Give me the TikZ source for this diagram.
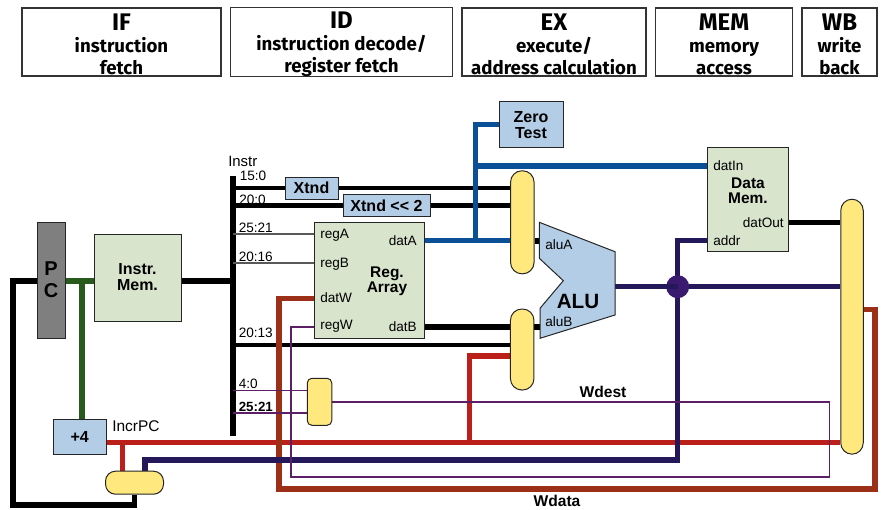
\documentclass[tikz,border=0pt]{standalone}
\usepackage{fontspec}
\setmainfont{Liberation Sans}
\newfontfamily\headfont{Fira Sans}
\definecolor{cblue}{HTML}{B3CDE6}
\definecolor{cgreen}{HTML}{D8E4CC}
\definecolor{cyell}{HTML}{FFE97F}
\definecolor{cgray}{HTML}{7F7F7F}
\definecolor{wgreen}{HTML}{285A1E}
\definecolor{wblue}{HTML}{0B4F96}
\definecolor{wnavy}{HTML}{24175A}
\definecolor{wdot}{HTML}{3A1A6E}
\definecolor{wred}{HTML}{BB1F1A}
\definecolor{wwine}{HTML}{9C2F18}
\definecolor{wpurp}{HTML}{5C1E66}
\pgfdeclarelayer{top}\pgfsetlayers{main,top}
\newcommand{\headtitle}[1]{{\fontsize{18}{18}\selectfont\rule{0pt}{15.5pt}#1}}
\tikzset{
 wh/.style 2 args={minimum width=#1*0.75pt,minimum height=#2*0.75pt},
 headbox/.style={draw=black!80,line width=0.9pt,inner sep=0pt,align=center,font=\headfont\bfseries\fontsize{14}{16.6}\selectfont},
 unit/.style={draw=black!85,line width=0.75pt,inner sep=0pt,align=center,font=\bfseries\fontsize{12}{12}\selectfont},
 bluebox/.style={unit,fill=cblue},
 greenbox/.style={unit,fill=cgreen},
 muxbox/.style={draw=black!85,line width=0.75pt,fill=cyell,inner sep=0pt},
 lab/.style={inner sep=0pt,font=\fontsize{10.2}{11}\selectfont},
 wlab/.style={inner sep=0pt,font=\bfseries\fontsize{11.7}{12}\selectfont},
 thick1/.style={line width=4.4pt,black},
 thick2/.style={line width=3.4pt,black},
 thinw/.style={line width=0.9pt,black!65},
 pwire/.style={line width=1.2pt,wpurp},
 gwire/.style={line width=3.8pt,wgreen},
 bwire/.style={line width=3.8pt,wblue},
 nwire/.style={line width=3.8pt,wnavy},
 rwire/.style={line width=3.8pt,wred},
 wwire/.style={line width=4.2pt,wwine},
}
\begin{document}
\begin{tikzpicture}[x=0.75pt,y=-0.75pt,line join=miter]
\useasboundingbox (0,0) rectangle (882,510);
% header
\node[headbox,wh={199}{68}] (hif) at (121.5,42) {\headtitle{IF}\\instruction\\fetch};
\node[headbox,wh={222}{68}] (hid) at (341.5,42) {\headtitle{ID}\\instruction decode/\\register fetch};
\node[headbox,wh={184}{68}] (hex) at (554,42) {\headtitle{EX}\\execute/\\address calculation};
\node[headbox,wh={137}{68}] (hmem) at (724,42) {\headtitle{MEM}\\memory\\access};
\node[headbox,wh={75}{68}] (hwb) at (839.5,42) {\headtitle{WB}\\write\\back};
\begin{pgfonlayer}{top}
\node[unit,fill=cgray,wh={28}{116},font=\bfseries\fontsize{15}{16.5}\selectfont] (pc) at (51,280) {P\\C};
\node[greenbox,wh={87}{87}] (imem) at (137.5,277.5) {Instr.\\Mem.};
\node[bluebox,wh={53}{35}] (plus) at (79.7,436.5) {+4};
\node[muxbox,rounded corners=7.5pt,wh={58}{23}] (muxpc) at (134.5,482.7) {};
\node[bluebox,wh={53}{22}] (xtnd) at (311.5,188) {Xtnd};
\node[bluebox,wh={87}{22.5}] (xtnd2) at (386.5,205.5) {Xtnd {<}{<} 2};
\node[greenbox,wh={110}{116}] (regs) at (369,280.3) {};
\node[muxbox,rounded corners=8.5pt,wh={23.5}{103}] (muxa) at (522.3,222.3) {};
\node[muxbox,rounded corners=8.5pt,wh={23.5}{81}] (muxb) at (522.2,349.5) {};
\node[muxbox,rounded corners=3.5pt,wh={24.5}{47}] (muxw) at (319.5,401.8) {};
\node[bluebox,wh={64}{46}] (zero) at (531,124.7) {Zero\\Test};
\node[greenbox,wh={81.5}{104.5}] (dmem) at (748,199.5) {};
\node[muxbox,rounded corners=8.5pt,wh={22.5}{255}] (muxwb) at (852,326.7) {};
\draw[draw=black!85,line width=0.75pt,fill=cblue] (539.3,222.3) coordinate (alutl) -- (615,251.7) -- (615,315) -- (540,338.3) -- (540,308.3) -- (563.3,280.7) -- (539.3,258.3) -- cycle;
\node[inner sep=0pt,font=\bfseries\fontsize{15.5}{17}\selectfont] (alulab) at (578,301) {ALU};
\node[inner sep=0pt,align=center,font=\bfseries\fontsize{11.6}{11.4}\selectfont] (regslab) at (387,281) {Reg.\\Array};
\node[inner sep=0pt,align=center,font=\bfseries\fontsize{11.6}{11}\selectfont] (dmemlab) at (748,191) {Data\\Mem.};
\node[lab,anchor=west] (lrega) at (320,235) {regA};
\node[lab,anchor=west] (lregb) at (320,264) {regB};
\node[lab,anchor=west] (ldatw) at (320,297.5) {datW};
\node[lab,anchor=west] (lregw) at (320,326) {regW};
\node[lab,anchor=east] (ldata) at (417,240.5) {datA};
\node[lab,anchor=east] (ldatb) at (417,326.5) {datB};
\node[lab,anchor=west] (lalua) at (545,245) {aluA};
\node[lab,anchor=west] (laluB) at (545,321.5) {aluB};
\node[lab,anchor=west] (ldatin) at (713,166) {datIn};
\node[lab,anchor=east] (ldatout) at (784,222.5) {datOut};
\node[lab,anchor=west] (laddr) at (713,241) {addr};
\end{pgfonlayer}
% bus coordinates
\coordinate (bustop) at (233,176);
\coordinate (busbot) at (233,436);
\coordinate (imrow) at (0,281);
\coordinate (greentap) at (82,281);
\coordinate (pccorner) at (12.7,281);
\coordinate (pcbottom) at (12.7,505);
\coordinate (alucA) at (540,240.7);
\coordinate (alucB) at (540,326.7);
\coordinate (aluout) at (615,286.7);
\coordinate (bluejoin) at (475.7,240.7);
\coordinate (bluetop) at (475.7,124.7);
\coordinate (bluemid) at (475.7,166);
\coordinate (navyjoin) at (677.7,286.7);
\coordinate (redjoin) at (469.7,442.7);
\coordinate (redtap) at (122.3,442.7);
\coordinate (wb) at (875,309.3);
\coordinate (wdatacorner) at (875,489);
\coordinate (wdataleft) at (278.7,489);
\coordinate (wdatatop) at (278.7,298.3);
\coordinate (wdestr) at (829.3,401.7);
\coordinate (wdestb) at (829.3,476.7);
\coordinate (wdestl) at (291,476.7);
\coordinate (wdestt) at (291,326.7);
% wires
\draw[thick1] (bustop) -- (busbot);
\draw[thick1] (imem.east |- imrow) -- (bustop |- imrow);
\draw[gwire] (pc.east |- imrow) -- (imem.west |- imrow);
\draw[gwire] (greentap) -- (plus.north -| greentap);
\draw[thick1] (pc.west |- imrow) -- (pccorner) -- (pcbottom) -- (pcbottom -| muxpc.south) -- (muxpc.south);
\draw[thick2] (bustop |- xtnd) -- (xtnd.west);
\draw[thick2] (bustop |- xtnd2) -- (xtnd2.west);
\draw[thick2] (xtnd.east) -- (muxa.west |- xtnd);
\draw[thick2] (xtnd2.east) -- (muxa.west |- xtnd2);
\draw[thinw] (233,234) -- (regs.west |- 0,234);
\draw[thinw] (233,263) -- (regs.west |- 0,263);
\draw[thick2] (233,344.8) -- (muxb.west |- 0,344.8);
\draw[thick1] (regs.east |- alucB) -- (muxb.west |- alucB);
\draw[thick1] (muxa.east |- alucA) -- (alucA);
\draw[thick1] (muxb.east |- alucB) -- (alucB);
\draw[thick1] (dmem.east |- ldatout) -- (muxwb.west |- ldatout);
\draw[bwire] (regs.east |- bluejoin) -- (muxa.west |- bluejoin);
\draw[bwire] (bluejoin) -- (bluetop) -- (bluetop -| zero.west);
\draw[bwire] (bluemid) -- (dmem.west |- bluemid);
\draw[rwire] (plus.east |- redjoin) -- (muxwb.west |- redjoin);
\draw[rwire] (redjoin) -- (469.7,356) -- (muxb.west |- 0,356);
\draw[rwire] (redtap) -- (muxpc.north -| redtap);
\draw[wwire] (muxwb.east |- wb) -- (wb) -- (wdatacorner) -- (wdataleft) -- (wdatatop) -- (regs.west |- wdatatop);
\draw[nwire] (dmem.west |- 0,240.7) -- (677.7,240.7) -- (677.7,460) -- (145,460) -- (145,471);
\fill[wdot] (navyjoin) circle (11.5);
\draw[nwire] (aluout) -- (navyjoin);
\draw[nwire] (navyjoin) ++(11,0) -- (muxwb.west |- aluout);
\draw[pwire] (233,390.3) -- (muxw.west |- 0,390.3);
\draw[pwire] (233,412.7) -- (muxw.west |- 0,412.7);
\draw[pwire] (muxw.east |- wdestr) -- (wdestr) -- (wdestb) -- (wdestl) -- (wdestt) -- (regs.west |- wdestt);
% labels
\node[lab,anchor=west,font=\fontsize{11.2}{12}\selectfont] (linstr) at (228,161.5) {Instr};
\node[lab,anchor=west] (l150) at (239.5,176) {15:0};
\node[lab,anchor=west] (l200) at (239,199.5) {20:0};
\node[lab,anchor=west] (l2521) at (238.5,228) {25:21};
\node[lab,anchor=west] (l2016) at (238.5,257) {20:16};
\node[lab,anchor=west] (l2013) at (238.5,332.5) {20:13};
\node[lab,anchor=west] (l40) at (238.5,384) {4:0};
\node[lab,anchor=west,font=\bfseries\fontsize{10}{11}\selectfont] (l2521b) at (238.5,407) {25:21};
\node[lab,anchor=west,font=\fontsize{11.6}{12}\selectfont] (lincr) at (112,426.5) {IncrPC};
\node[wlab] (lwdest) at (603,391.5) {Wdest};
\node[wlab] (lwdata) at (557,501) {Wdata};
\end{tikzpicture}
\end{document}
